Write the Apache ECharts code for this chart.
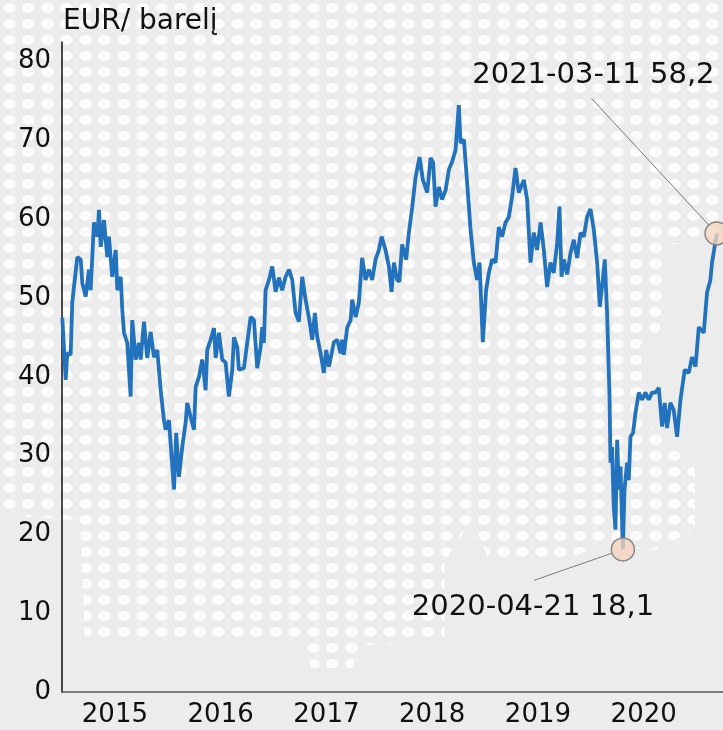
<!DOCTYPE html>
<html>
<head>
<meta charset="utf-8">
<script src="https://cdn.jsdelivr.net/npm/echarts@6/dist/echarts.min.js"></script>
<style>
  html, body { margin: 0; padding: 0; background: #ececec; }
  #chart { width: 723px; height: 730px; }
</style>
</head>
<body>
<div id="chart"></div>
<script>
// time in decimal years, price in EUR per barrel
var years = [
  2015.003, 2015.035, 2015.050, 2015.082, 2015.097, 2015.113, 2015.145, 2015.177, 2015.192, 2015.224,
  2015.255, 2015.271, 2015.302, 2015.334, 2015.350, 2015.366, 2015.397, 2015.428, 2015.444, 2015.475,
  2015.508, 2015.523, 2015.555, 2015.570, 2015.586, 2015.617, 2015.649, 2015.664, 2015.697, 2015.728,
  2015.744, 2015.775, 2015.806, 2015.838, 2015.870, 2015.901, 2015.933, 2015.964, 2015.980, 2016.011,
  2016.059, 2016.080, 2016.106, 2016.137, 2016.169, 2016.184, 2016.216, 2016.248, 2016.264, 2016.295,
  2016.326, 2016.358, 2016.373, 2016.405, 2016.437, 2016.453, 2016.484, 2016.515, 2016.547, 2016.578,
  2016.610, 2016.626, 2016.657, 2016.673, 2016.720, 2016.751, 2016.784, 2016.815, 2016.846, 2016.878,
  2016.893, 2016.909, 2016.925, 2016.957, 2016.988, 2017.020, 2017.051, 2017.082, 2017.114, 2017.146,
  2017.177, 2017.209, 2017.240, 2017.271, 2017.303, 2017.335, 2017.366, 2017.391, 2017.413, 2017.445,
  2017.476, 2017.498, 2017.524, 2017.571, 2017.602, 2017.634, 2017.649, 2017.665, 2017.697, 2017.729,
  2017.744, 2017.776, 2017.807, 2017.838, 2017.870, 2017.902, 2017.933, 2017.965, 2017.996, 2018.022,
  2018.059, 2018.091, 2018.116, 2018.138, 2018.169, 2018.190, 2018.216, 2018.254, 2018.280, 2018.311,
  2018.343, 2018.381, 2018.412, 2018.453, 2018.485, 2018.509, 2018.532, 2018.563, 2018.594, 2018.627,
  2018.658, 2018.689, 2018.721, 2018.752, 2018.768, 2018.800, 2018.831, 2018.863, 2018.894, 2018.925,
  2018.948, 2018.979, 2019.010, 2019.036, 2019.067, 2019.099, 2019.130, 2019.162, 2019.194, 2019.225,
  2019.256, 2019.288, 2019.319, 2019.367, 2019.398, 2019.430, 2019.461, 2019.492, 2019.525, 2019.556,
  2019.587, 2019.619, 2019.650, 2019.682, 2019.704, 2019.723, 2019.745, 2019.776, 2019.808, 2019.839,
  2019.871, 2019.903, 2019.934, 2019.965, 2019.997, 2020.028, 2020.060, 2020.085, 2020.113, 2020.132,
  2020.154, 2020.177, 2020.186, 2020.201, 2020.217, 2020.233, 2020.249, 2020.265, 2020.281, 2020.303,
  2020.319, 2020.343, 2020.359, 2020.375, 2020.400, 2020.422, 2020.454, 2020.485, 2020.517, 2020.548,
  2020.579, 2020.611, 2020.643, 2020.674, 2020.699, 2020.721, 2020.753, 2020.784, 2020.816, 2020.848,
  2020.888, 2020.926, 2020.957, 2020.990, 2021.021, 2021.068, 2021.099, 2021.131, 2021.146, 2021.192
];
var prices = [
  47.5, 39.6, 43.0, 42.8, 49.4, 51.4, 55.2, 54.9, 51.9, 50.2,
  53.6, 51.0, 59.6, 57.8, 61.2, 56.5, 59.9, 55.2, 57.8, 52.7,
  56.1, 51.0, 52.7, 48.5, 45.6, 44.3, 37.5, 47.2, 42.2, 44.3,
  42.2, 47.0, 42.4, 45.7, 42.5, 43.4, 38.3, 34.5, 33.3, 34.5,
  25.7, 32.9, 27.3, 31.1, 34.2, 36.7, 34.9, 33.3, 38.7, 40.0,
  42.2, 38.3, 43.4, 44.7, 46.2, 42.4, 45.6, 42.2, 41.8, 37.5,
  40.9, 45.0, 43.8, 40.9, 41.1, 44.3, 47.6, 47.2, 41.1, 43.8,
  46.3, 44.3, 51.0, 52.3, 54.0, 50.8, 52.6, 51.0, 52.7, 53.6,
  52.3, 48.1, 47.0, 52.7, 49.8, 47.5, 44.7, 48.1, 45.1, 43.0,
  40.5, 43.4, 41.3, 44.4, 44.7, 43.0, 44.7, 42.8, 46.3, 47.2,
  49.8, 47.6, 49.4, 55.1, 52.3, 53.6, 52.3, 54.9, 56.1, 57.8,
  56.1, 54.0, 50.8, 54.5, 52.3, 52.1, 56.8, 54.9, 58.3, 61.5,
  65.3, 67.9, 65.0, 63.4, 67.8, 67.2, 61.6, 64.1, 62.5, 63.7,
  66.3, 67.3, 68.8, 74.5, 69.7, 70.1, 64.6, 58.7, 54.5, 52.3,
  54.5, 44.4, 51.0, 53.2, 54.9, 54.5, 59.0, 57.8, 59.6, 60.3,
  62.9, 66.5, 63.4, 65.0, 62.5, 54.5, 58.3, 56.1, 59.6, 56.1,
  51.4, 54.5, 53.2, 57.0, 61.6, 52.7, 54.9, 53.0, 55.7, 57.4,
  55.1, 58.3, 57.8, 60.3, 61.3, 58.7, 54.5, 48.9, 52.3, 54.9,
  48.1, 37.5, 29.1, 31.1, 23.5, 20.6, 32.0, 25.7, 28.6, 18.1,
  25.7, 29.1, 26.9, 32.4, 32.9, 35.4, 38.0, 37.1, 38.0, 37.1,
  38.0, 38.0, 38.6, 33.7, 36.7, 33.5, 36.7, 35.8, 32.4, 37.1,
  40.9, 40.5, 42.5, 41.3, 46.3, 45.6, 50.7, 52.3, 54.5, 58.2
];
var yearLabels = ['2015', '2016', '2017', '2018', '2019', '2020'];
var noteDates = ['2020-04-21', '2021-03-11'];
var noteValues = [18.1, 58.2];

var FONT = 'DejaVu Sans';

function toYear(s) {
  var d = new Date(s + 'T00:00:00Z');
  var y = d.getUTCFullYear();
  var start = Date.UTC(y, 0, 1), end = Date.UTC(y + 1, 0, 1);
  return y + (d.getTime() - start) / (end - start);
}

// white dot pattern for the backdrop
var tile = document.createElement('canvas');
tile.width = 19;
tile.height = 16;
var tctx = tile.getContext('2d');
tctx.fillStyle = '#ffffff';
tctx.beginPath();
tctx.ellipse(9.5, 8, 6.3, 5, 0, 0, Math.PI * 2);
tctx.fill();

var dom = document.getElementById('chart');
var myChart = echarts.init(dom, null, { renderer: 'canvas' });

var lineData = years.map(function (t, i) { return [t, prices[i]]; });
var noteData = noteDates.map(function (d, i) { return [toYear(d), noteValues[i]]; });

var option = {
  backgroundColor: '#ececec',
  animation: false,
  title: {
    text: 'EUR/ barelį',
    left: 58,
    top: 3,
    textStyle: { fontFamily: FONT, fontSize: 28, fontWeight: 'normal', color: '#111' }
  },
  graphic: [{
    type: 'polygon',
    z: -10,
    silent: true,
    shape: {
      points: [[0, 0], [723, 0], [723, 240], [665, 245], [660, 330], [640, 345], [645, 420],
        [695, 468], [695, 530], [655, 550], [600, 545], [570, 558], [488, 558], [472, 520],
        [445, 560], [445, 642], [360, 645], [352, 668], [312, 668], [300, 642], [85, 642],
        [80, 520], [0, 515]]
    },
    style: { fill: { image: tile, repeat: 'repeat' }, opacity: 0.85 }
  }],
  grid: { left: 62, right: 0, top: 42, bottom: 38 },
  xAxis: {
    type: 'value',
    min: 2015,
    max: 2021.25,
    interval: 0.5,
    splitLine: { show: false },
    axisTick: { show: false },
    axisLine: { show: true, lineStyle: { color: '#555', width: 1.5 } },
    axisLabel: {
      margin: 10,
      fontFamily: FONT,
      fontSize: 26,
      color: '#111',
      showMaxLabel: false,
      formatter: function (v) {
        var k = Math.round((v - 2015.5) * 2);
        if (Math.abs(v - Math.floor(v) - 0.5) < 1e-6 && k % 2 === 0 && yearLabels[k / 2]) {
          return yearLabels[k / 2];
        }
        return '';
      }
    }
  },
  yAxis: {
    type: 'value',
    min: 0,
    max: 82.5,
    interval: 10,
    splitLine: { show: false },
    axisTick: { show: false },
    axisLine: { show: true, lineStyle: { color: '#111', width: 1.5 } },
    axisLabel: {
      margin: 11,
      fontFamily: FONT,
      fontSize: 26,
      color: '#111',
      formatter: function (v) { return v % 10 === 0 ? String(v) : ''; }
    }
  },
  series: [
    {
      type: 'line',
      data: lineData,
      showSymbol: false,
      lineStyle: { color: '#2372be', width: 3.8 },
      z: 2
    },
    {
      type: 'scatter',
      data: noteData,
      symbol: 'circle',
      symbolSize: 23,
      itemStyle: {
        color: 'rgba(247, 212, 190, 0.78)',
        borderColor: '#858585',
        borderWidth: 1.5,
        opacity: 1
      },
      z: 5
    }
  ]
};

myChart.setOption(option);

// annotation texts and leader lines, placed relative to each marked point
var noteLayout = [
  { tx: -211, ty: 58, align: 'left', lx: -89, ly: 31 },
  { tx: -2, ty: -158, align: 'right', lx: -125, ly: -135 }
];
var extra = [];
noteData.forEach(function (p, i) {
  var px = myChart.convertToPixel({ seriesIndex: 1 }, p);
  var L = noteLayout[i];
  var sx = px[0] + L.lx, sy = px[1] + L.ly;
  var dx = sx - px[0], dy = sy - px[1];
  var len = Math.sqrt(dx * dx + dy * dy);
  var r = 11.5;
  extra.push({
    type: 'line',
    z: 3,
    silent: true,
    shape: { x1: sx, y1: sy, x2: px[0] + dx / len * r, y2: px[1] + dy / len * r },
    style: { stroke: '#7a7a7a', lineWidth: 1 }
  });
  extra.push({
    type: 'text',
    z: 6,
    silent: true,
    x: px[0] + L.tx,
    y: px[1] + L.ty,
    style: {
      text: noteDates[i] + ' ' + String(noteValues[i]).replace('.', ','),
      fontFamily: FONT,
      fontSize: 29,
      fill: '#111',
      align: L.align,
      verticalAlign: 'middle'
    }
  });
});
myChart.setOption({ graphic: option.graphic.concat(extra) });
</script>
</body>
</html>
